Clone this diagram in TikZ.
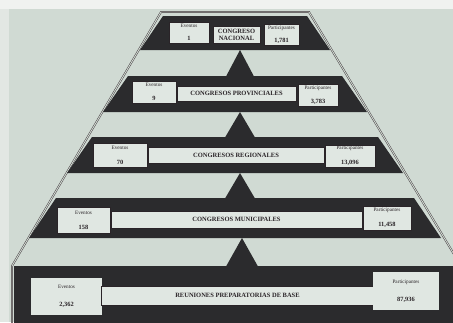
\documentclass[tikz,border=0pt]{standalone}
\usepackage{fontspec}
\setmainfont{Liberation Serif}
\definecolor{bg}{HTML}{D0DAD3}
\definecolor{paper}{HTML}{F0F2F0}
\definecolor{band}{HTML}{2B2B2D}
\definecolor{boxfill}{HTML}{E0E7E2}
\definecolor{ink}{HTML}{2A2428}
\definecolor{rim}{HTML}{3E3438}
\newcommand{\labfnt}{\fontsize{5.2}{6}\selectfont}
\newcommand{\numfnt}{\fontsize{6.4}{7}\selectfont\bfseries}
\begin{document}
\begin{tikzpicture}[x=1pt,y=-1pt,
  bandfill/.style={fill=band,draw=none},
  outline/.style={draw=rim,double=bg,double distance=0.9pt,line width=0.45pt},
  infobox/.style={draw=ink,line width=0.5pt,fill=boxfill,inner sep=0pt,align=center,text=ink},
  dblbox/.style={infobox,double=boxfill,double distance=1.2pt,line width=0.4pt},
  titlebox/.style={draw=ink,line width=0.5pt,fill=boxfill,inner sep=0pt,align=center,text=ink,
    font=\fontsize{6.5}{7.2}\selectfont\bfseries},
]
\useasboundingbox (0,0) rectangle (453,322);
\begin{scope}
\clip (0,0) rectangle (453,322);
\fill[bg] (0,0) rectangle (453,322);
\fill[paper] (0,0) rectangle (453,9);
\fill[paper!55!bg] (0,9) rectangle (9,322);
% outline of the pyramid
\draw[outline] (12,330) -- (12,266) -- (161,12) -- (309,12) -- (461,266);
% bands
\fill[bandfill] (163,16) -- (307,16) -- (330,50) -- (140,50) -- cycle;
\fill[bandfill] (128,76) -- (342,76) -- (367,112) -- (103,112) -- cycle;
\fill[bandfill] (92,137) -- (378,137) -- (403,173) -- (67,173) -- cycle;
\fill[bandfill] (56,198) -- (414,198) -- (441,238) -- (29,238) -- cycle;
\fill[bandfill] (14,266) -- (460,266) -- (460,330) -- (14,330) -- cycle;
% connecting triangles
\fill[bandfill] (240,50) -- (254,76.5) -- (226,76.5) -- cycle;
\fill[bandfill] (240,112) -- (255,137.5) -- (225,137.5) -- cycle;
\fill[bandfill] (240,173) -- (255,198.5) -- (225,198.5) -- cycle;
\fill[bandfill] (242,238) -- (258,266.5) -- (226,266.5) -- cycle;
\end{scope}
% band 1
\node[infobox,minimum width=40pt,minimum height=21pt] (ev1) at (189,32.5)
  {{\labfnt Eventos}\\[1pt]{\numfnt 1}};
\node[titlebox,minimum width=47pt,minimum height=17pt] (t1) at (236.5,34.5)
  {CONGRESO\\NACIONAL};
\node[infobox,minimum width=35pt,minimum height=21pt] (pa1) at (281.5,34.5)
  {{\labfnt Participantes}\\[1pt]{\numfnt 1,781}};
% band 2
\node[infobox,minimum width=44pt,minimum height=22pt] (ev2) at (154,92)
  {{\labfnt Eventos}\\[2pt]{\numfnt 9}};
\node[titlebox,minimum width=119pt,minimum height=15pt] (t2) at (236.5,93.5)
  {CONGRESOS PROVINCIALES};
\node[infobox,minimum width=40pt,minimum height=22pt] (pa2) at (318,95)
  {{\labfnt Participantes}\\[2pt]{\numfnt 3,783}};
% band 3
\node[infobox,minimum width=54pt,minimum height=24pt] (ev3) at (120,155)
  {{\labfnt Eventos}\\[3pt]{\numfnt 70}};
\node[titlebox,minimum width=176pt,minimum height=16pt] (t3) at (236,155)
  {CONGRESOS REGIONALES};
\node[infobox,minimum width=50pt,minimum height=22pt] (pa3) at (350,156)
  {{\labfnt Participantes}\\[3pt]{\numfnt 13,096}};
% band 4
\node[infobox,minimum width=53pt,minimum height=26pt] (ev4) at (83.5,220)
  {{\labfnt Eventos}\\[3pt]{\numfnt 158}};
\node[titlebox,minimum width=251pt,minimum height=17pt] (t4) at (236.5,219.5)
  {CONGRESOS MUNICIPALES};
\node[infobox,minimum width=48pt,minimum height=24pt] (pa4) at (387,218)
  {{\labfnt Participantes}\\[3pt]{\numfnt 11,458}};
% band 5
\node[dblbox,minimum width=69pt,minimum height=35pt] (ev5) at (66.5,296.5)
  {{\labfnt Eventos}\\[6pt]{\numfnt 2,362}};
\node[titlebox,minimum width=272pt,minimum height=19pt] (t5) at (237.5,295.5)
  {REUNIONES PREPARATORIAS DE BASE};
\node[dblbox,minimum width=64pt,minimum height=36pt] (pa5) at (406,291)
  {{\labfnt Participantes}\\[6pt]{\numfnt 87,936}};
\end{tikzpicture}
\end{document}
